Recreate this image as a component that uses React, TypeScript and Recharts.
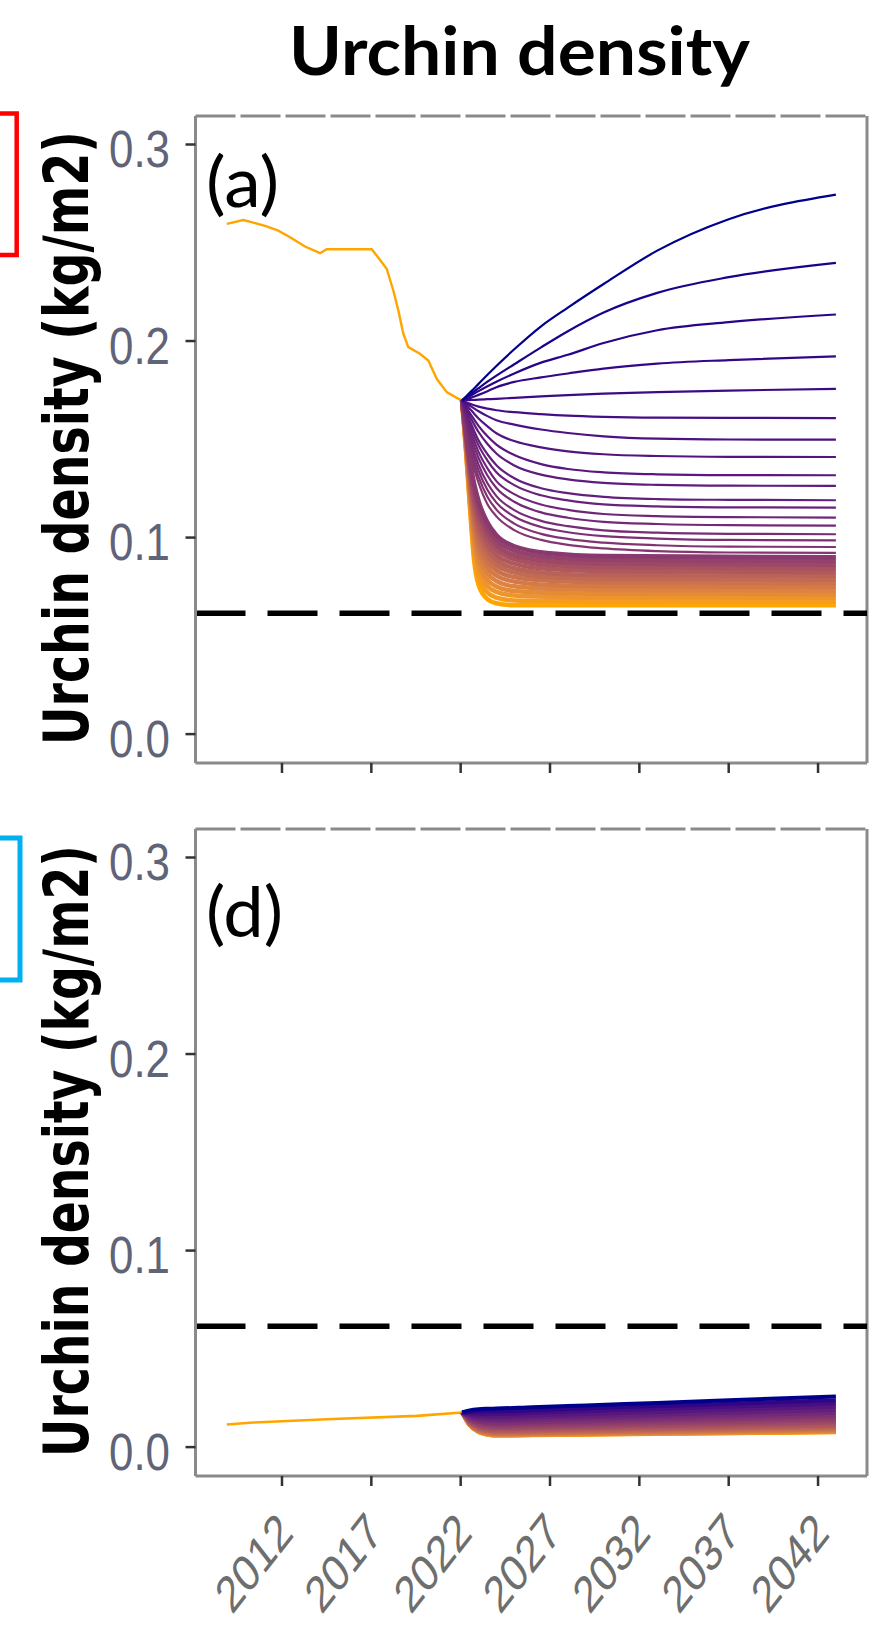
import React from 'react';
import { LineChart, Line, XAxis, YAxis, ReferenceLine } from 'recharts';

const X_DOMAIN: [number, number] = [2007.16, 2044.74];
const Y_DOMAIN: [number, number] = [-0.0147, 0.3145];
const X_TICKS = [2012, 2017, 2022, 2027, 2032, 2037, 2042];
const Y_TICKS = [0, 0.1, 0.2, 0.3];
const THRESHOLD = 0.0615;

// panel (a): observed series
const aObsYears = [2008.91, 2009.83, 2010.3, 2011.14, 2011.79, 2012.45, 2013.29, 2014.13, 2014.5, 2017.02, 2017.3, 2017.86, 2018.23, 2018.51, 2018.79, 2019.07, 2019.72, 2020.19, 2020.66, 2021.22, 2021.78, 2022.08];
const aObsVals = [0.2596, 0.2616, 0.2605, 0.2583, 0.2562, 0.2528, 0.2481, 0.2447, 0.2467, 0.2467, 0.2435, 0.2368, 0.2257, 0.2156, 0.2037, 0.1969, 0.1935, 0.1901, 0.1808, 0.174, 0.1711, 0.1698];

// panel (a): separated projection lines (top = dark blue)
const aFanYears = [2022.08, 2022.3, 2022.6, 2023, 2023.5, 2024, 2025, 2026.5, 2028, 2030, 2033, 2037, 2043];
const aFan = [
  [0.1698, 0.1718, 0.1745, 0.1782, 0.1828, 0.1873, 0.1958, 0.2075, 0.217, 0.229, 0.246, 0.262, 0.2745],
  [0.1698, 0.1713, 0.1733, 0.176, 0.1793, 0.1824, 0.1882, 0.1968, 0.205, 0.2145, 0.2245, 0.2325, 0.2398],
  [0.1698, 0.1709, 0.1724, 0.1745, 0.177, 0.1793, 0.1835, 0.189, 0.193, 0.199, 0.2055, 0.2096, 0.2135],
  [0.1698, 0.1704, 0.1712, 0.1726, 0.1745, 0.1765, 0.1792, 0.1815, 0.1835, 0.186, 0.1885, 0.1903, 0.1922],
  [0.1698, 0.1699, 0.17, 0.1702, 0.1704, 0.1706, 0.1711, 0.1718, 0.1725, 0.1732, 0.174, 0.1748, 0.1757],
  [0.1698, 0.1688, 0.1678, 0.1666, 0.1656, 0.1648, 0.1638, 0.1628, 0.162, 0.1614, 0.161, 0.1609, 0.1608],
  [0.1698, 0.1683, 0.1666, 0.1643, 0.1618, 0.1597, 0.1575, 0.155, 0.1532, 0.1515, 0.1503, 0.1499, 0.1498],
  [0.1698, 0.1675, 0.1646, 0.1606, 0.1566, 0.1531, 0.1491, 0.1459, 0.1439, 0.1424, 0.1415, 0.1411, 0.141],
  [0.1698, 0.1664, 0.1622, 0.1568, 0.1515, 0.1473, 0.142, 0.1374, 0.1349, 0.1332, 0.1322, 0.1318, 0.1317],
  [0.1698, 0.1655, 0.1602, 0.1537, 0.1476, 0.1428, 0.1367, 0.132, 0.1296, 0.1278, 0.1268, 0.1264, 0.1263],
  [0.1698, 0.1642, 0.1576, 0.1495, 0.1424, 0.1368, 0.1302, 0.1251, 0.1226, 0.1207, 0.1196, 0.1192, 0.119],
  [0.1698, 0.1632, 0.1556, 0.1469, 0.1392, 0.1332, 0.1267, 0.1215, 0.1189, 0.1169, 0.1159, 0.1154, 0.1152],
  [0.1698, 0.1621, 0.1531, 0.1436, 0.1352, 0.1287, 0.1221, 0.1168, 0.1141, 0.112, 0.1109, 0.1104, 0.1102],
  [0.1698, 0.1609, 0.1507, 0.1405, 0.1316, 0.1252, 0.1182, 0.1128, 0.1101, 0.108, 0.1069, 0.1063, 0.1061],
  [0.1698, 0.1596, 0.148, 0.1371, 0.1276, 0.1211, 0.114, 0.1085, 0.1058, 0.1037, 0.1025, 0.1019, 0.1017],
  [0.1698, 0.1584, 0.1456, 0.1342, 0.1242, 0.1178, 0.1107, 0.1054, 0.1027, 0.1007, 0.0995, 0.0988, 0.0986],
  [0.1698, 0.1571, 0.1429, 0.131, 0.1206, 0.1142, 0.1071, 0.1019, 0.0993, 0.0974, 0.0961, 0.0954, 0.0952],
  [0.1698, 0.1558, 0.1403, 0.1279, 0.117, 0.1108, 0.1038, 0.0988, 0.0963, 0.0945, 0.0931, 0.0924, 0.0922],
];

// panel (a): dense low band (purple -> orange)
const aBandYears = [2022.08, 2022.3, 2022.5, 2022.75, 2023, 2023.5, 2024, 2025, 2027, 2030, 2043];
const aBand = [
  [0.1698, 0.1538, 0.1403, 0.1275, 0.1187, 0.1076, 0.1012, 0.0956, 0.092, 0.0906, 0.09],
  [0.1698, 0.1531, 0.1388, 0.1249, 0.1159, 0.1048, 0.0987, 0.0934, 0.09, 0.0887, 0.0881],
  [0.1698, 0.1524, 0.1372, 0.1223, 0.113, 0.1022, 0.0962, 0.0911, 0.088, 0.0868, 0.0862],
  [0.1698, 0.1517, 0.1356, 0.1196, 0.11, 0.0994, 0.0938, 0.089, 0.086, 0.0849, 0.0844],
  [0.1698, 0.151, 0.134, 0.1168, 0.1069, 0.0966, 0.0912, 0.0867, 0.084, 0.083, 0.0825],
  [0.1698, 0.1503, 0.1323, 0.114, 0.1038, 0.0937, 0.0886, 0.0844, 0.0819, 0.081, 0.0806],
  [0.1698, 0.1495, 0.1306, 0.111, 0.1006, 0.0907, 0.086, 0.0822, 0.0799, 0.0791, 0.0787],
  [0.1698, 0.1487, 0.1289, 0.108, 0.0973, 0.0879, 0.0834, 0.0799, 0.078, 0.0773, 0.0769],
  [0.1698, 0.1479, 0.1271, 0.105, 0.094, 0.0848, 0.0807, 0.0776, 0.0759, 0.0753, 0.075],
  [0.1698, 0.1471, 0.1253, 0.1018, 0.0905, 0.0817, 0.0779, 0.0752, 0.0739, 0.0733, 0.0731],
  [0.1698, 0.1463, 0.1235, 0.0986, 0.087, 0.0785, 0.0751, 0.0728, 0.0718, 0.0714, 0.0712],
  [0.1698, 0.1455, 0.1216, 0.0953, 0.0835, 0.0753, 0.0724, 0.0705, 0.0698, 0.0695, 0.0694],
  [0.1698, 0.1446, 0.1197, 0.0919, 0.0798, 0.0721, 0.0695, 0.068, 0.0677, 0.0676, 0.0675],
  [0.1698, 0.1438, 0.1177, 0.0885, 0.076, 0.0687, 0.0666, 0.0656, 0.0656, 0.0656, 0.0656],
];

// panel (d): observed series
const dObsYears = [2008.91, 2010.4, 2014.5, 2019.55, 2022.08];
const dObsVals = [0.0115, 0.0125, 0.0142, 0.0159, 0.0176];

// panel (d): projection lines (top = dark blue)
const dProjYears = [2022.08, 2022.5, 2023, 2023.5, 2024, 2026, 2029, 2033, 2037, 2043];
const dProj = [
  [0.0176, 0.0187, 0.0193, 0.0195, 0.0196, 0.0203, 0.0212, 0.0225, 0.0238, 0.0258],
  [0.0176, 0.0179, 0.0181, 0.0182, 0.0182, 0.0188, 0.0197, 0.0209, 0.0221, 0.0239],
  [0.0176, 0.0172, 0.017, 0.0169, 0.0169, 0.0175, 0.0183, 0.0194, 0.0205, 0.0222],
  [0.0176, 0.0165, 0.0159, 0.0157, 0.0156, 0.0161, 0.0169, 0.0179, 0.019, 0.0205],
  [0.0176, 0.0158, 0.0149, 0.0145, 0.0144, 0.0149, 0.0156, 0.0165, 0.0175, 0.0189],
  [0.0176, 0.0152, 0.0139, 0.0135, 0.0133, 0.0137, 0.0144, 0.0153, 0.0162, 0.0175],
  [0.0176, 0.0146, 0.013, 0.0124, 0.0122, 0.0126, 0.0132, 0.014, 0.0149, 0.0161],
  [0.0176, 0.0141, 0.0122, 0.0116, 0.0113, 0.0117, 0.0122, 0.013, 0.0138, 0.0149],
  [0.0176, 0.0136, 0.0115, 0.0107, 0.0104, 0.0107, 0.0113, 0.012, 0.0127, 0.0137],
  [0.0176, 0.0132, 0.0108, 0.0099, 0.0096, 0.0099, 0.0104, 0.011, 0.0117, 0.0126],
  [0.0176, 0.0128, 0.0102, 0.0092, 0.0089, 0.0092, 0.0096, 0.0102, 0.0108, 0.0117],
  [0.0176, 0.0124, 0.0096, 0.0086, 0.0082, 0.0085, 0.0089, 0.0094, 0.01, 0.0108],
  [0.0176, 0.0122, 0.0092, 0.0081, 0.0077, 0.008, 0.0083, 0.0088, 0.0093, 0.0101],
  [0.0176, 0.0118, 0.0087, 0.0075, 0.0071, 0.0073, 0.0077, 0.0082, 0.0087, 0.0094],
  [0.0176, 0.0117, 0.0084, 0.0072, 0.0068, 0.007, 0.0074, 0.0078, 0.0082, 0.0089],
  [0.0176, 0.0114, 0.0081, 0.0068, 0.0064, 0.0066, 0.0069, 0.0073, 0.0078, 0.0084],
  [0.0176, 0.0113, 0.0079, 0.0067, 0.0062, 0.0064, 0.0067, 0.0071, 0.0075, 0.0081],
  [0.0176, 0.0112, 0.0077, 0.0064, 0.0059, 0.0061, 0.0064, 0.0068, 0.0072, 0.0078],
  [0.0176, 0.0112, 0.0077, 0.0064, 0.0059, 0.0061, 0.0064, 0.0068, 0.0071, 0.0077],
  [0.0176, 0.0111, 0.0076, 0.0063, 0.0058, 0.006, 0.0063, 0.0067, 0.007, 0.0076],
];

const ORANGE = '#FFA500';
const DARKBLUE = '#00008B';
const AXIS_GREY = '#8a8a8a';

// ggplot-style gradient (Lab interpolation) darkblue -> orange
const lin = (c: number) => (c <= 0.04045 ? c / 12.92 : Math.pow((c + 0.055) / 1.055, 2.4));
const unlin = (c: number) => (c <= 0.0031308 ? 12.92 * c : 1.055 * Math.pow(c, 1 / 2.4) - 0.055);
const fLab = (t: number) => (t > 0.008856 ? Math.cbrt(t) : 7.787 * t + 16 / 116);
const fInv = (t: number) => (t * t * t > 0.008856 ? t * t * t : (t - 16 / 116) / 7.787);

function toLab(hex: string) {
  const r = lin(parseInt(hex.slice(1, 3), 16) / 255);
  const g = lin(parseInt(hex.slice(3, 5), 16) / 255);
  const b = lin(parseInt(hex.slice(5, 7), 16) / 255);
  const X = (0.4124 * r + 0.3576 * g + 0.1805 * b) / 0.95047;
  const Y = 0.2126 * r + 0.7152 * g + 0.0722 * b;
  const Z = (0.0193 * r + 0.1192 * g + 0.9505 * b) / 1.08883;
  return [116 * fLab(Y) - 16, 500 * (fLab(X) - fLab(Y)), 200 * (fLab(Y) - fLab(Z))];
}

function fromLab(L: number, a: number, bb: number) {
  const fy = (L + 16) / 116;
  const X = fInv(fy + a / 500) * 0.95047;
  const Y = fInv(fy);
  const Z = fInv(fy - bb / 200) * 1.08883;
  const rgb = [
    3.2406 * X - 1.5372 * Y - 0.4986 * Z,
    -0.9689 * X + 1.8758 * Y + 0.0415 * Z,
    0.0557 * X - 0.204 * Y + 1.057 * Z,
  ];
  return (
    '#' +
    rgb
      .map((c) => Math.round(Math.min(1, Math.max(0, unlin(c))) * 255).toString(16).padStart(2, '0'))
      .join('')
  );
}

const LAB_LO = toLab(DARKBLUE);
const LAB_HI = toLab(ORANGE);
const gradColor = (t: number) =>
  fromLab(
    LAB_LO[0] + (LAB_HI[0] - LAB_LO[0]) * t,
    LAB_LO[1] + (LAB_HI[1] - LAB_LO[1]) * t,
    LAB_LO[2] + (LAB_HI[2] - LAB_LO[2]) * t,
  );

const toPoints = (xs: number[], ys: number[]) => xs.map((year, i) => ({ year, v: ys[i] }));

type Series = { key: string; data: { year: number; v: number }[]; color: string; width: number; curve: 'linear' | 'monotone' };

function buildA(): Series[] {
  const out: Series[] = [{ key: 'obs', data: toPoints(aObsYears, aObsVals), color: ORANGE, width: 2.4, curve: 'linear' }];
  for (let j = aBand.length - 1; j >= 0; j--) {
    const t = (aFan.length + (j * 31) / (aBand.length - 1)) / 49;
    out.push({ key: `band${j}`, data: toPoints(aBandYears, aBand[j]), color: gradColor(t), width: 4.5, curve: 'monotone' });
  }
  for (let i = aFan.length - 1; i >= 0; i--) {
    out.push({ key: `fan${i}`, data: toPoints(aFanYears, aFan[i]), color: gradColor(i / 49), width: 2.2, curve: 'monotone' });
  }
  return out;
}

function buildD(): Series[] {
  const out: Series[] = [{ key: 'obs', data: toPoints(dObsYears, dObsVals), color: ORANGE, width: 2.6, curve: 'linear' }];
  for (let i = dProj.length - 1; i >= 0; i--) {
    out.push({ key: `proj${i}`, data: toPoints(dProjYears, dProj[i]), color: gradColor(i / (dProj.length - 1)), width: 4, curve: 'monotone' });
  }
  return out;
}

const NoTick = () => <g />;

function YTick({ y, payload }: any) {
  return (
    <text
      transform={`translate(170, ${y + 4}) scale(1, 1.28)`}
      textAnchor="end"
      dy="0.36em"
      fontSize={41}
      fontFamily="'Liberation Sans', Arial, sans-serif"
      fill="#5f6478"
      textLength={61}
      lengthAdjust="spacingAndGlyphs"
    >
      {Number(payload.value).toFixed(1)}
    </text>
  );
}

function XTick({ x, payload }: any) {
  return (
    <text
      transform={`translate(${x + 13}, 822) scale(1, 1.28) rotate(-45)`}
      textAnchor="end"
      fontSize={40}
      fontFamily="'Liberation Sans', Arial, sans-serif"
      fill="#6e6e6e"
    >
      {payload.value}
    </text>
  );
}

function Panel({ top, height, bottomMargin, axisHeight, series, xTick }: any) {
  return (
    <div style={{ position: 'absolute', left: 0, top, width: 870, height }}>
      <LineChart width={870} height={height} margin={{ top: 116, right: 3, bottom: bottomMargin, left: 0 }}>
        <XAxis
          dataKey="year"
          type="number"
          domain={X_DOMAIN}
          ticks={X_TICKS}
          allowDataOverflow
          height={axisHeight}
          axisLine={{ stroke: AXIS_GREY, strokeWidth: 3 }}
          tickLine={{ stroke: '#333', strokeWidth: 2.5 }}
          tickSize={10}
          tick={xTick}
        />
        <YAxis
          type="number"
          domain={Y_DOMAIN}
          ticks={Y_TICKS}
          allowDataOverflow
          width={195.5}
          axisLine={{ stroke: AXIS_GREY, strokeWidth: 3 }}
          tickLine={{ stroke: '#333', strokeWidth: 2.5 }}
          tickSize={10}
          tick={<YTick />}
        />
        <ReferenceLine y={Y_DOMAIN[1]} stroke={AXIS_GREY} strokeWidth={3} strokeDasharray="40 5" />
        <ReferenceLine x={X_DOMAIN[1]} stroke={AXIS_GREY} strokeWidth={3} />
        {series.map((s: Series) => (
          <Line
            key={s.key}
            data={s.data}
            dataKey="v"
            type={s.curve}
            stroke={s.color}
            strokeWidth={s.width}
            dot={false}
            activeDot={false}
            isAnimationActive={false}
          />
        ))}
        <ReferenceLine y={THRESHOLD} stroke="#000" strokeWidth={5.5} strokeDasharray="50 22" />
      </LineChart>
    </div>
  );
}

export default function App() {
  const seriesA = buildA();
  const seriesD = buildD();
  const yTitle = 'Urchin density (kg/m2)';
  return (
    <div style={{ position: 'absolute', left: 0, top: 0, width: 870, height: 1642, background: '#fff', overflow: 'hidden' }}>
      <Panel top={0} height={800} bottomMargin={7} axisHeight={30} series={seriesA} xTick={<NoTick />} />
      <Panel top={713} height={929} bottomMargin={16} axisHeight={150} series={seriesD} xTick={<XTick />} />
      <svg width={870} height={1642} style={{ position: 'absolute', left: 0, top: 0, pointerEvents: 'none' }}>
        <text x={289} y={75} fontFamily="Lato, 'Open Sans', sans-serif" fontWeight={700} fontSize={67} textLength={461} lengthAdjust="spacingAndGlyphs" fill="#000">
          Urchin density
        </text>
        <text x={206} y={206.7} fontFamily="Lato, 'Open Sans', sans-serif" fontSize={70} textLength={73} lengthAdjust="spacingAndGlyphs" fill="#000">
          (a)
        </text>
        <text x={206} y={936.7} fontFamily="Lato, 'Open Sans', sans-serif" fontSize={70} textLength={77} lengthAdjust="spacingAndGlyphs" fill="#000">
          (d)
        </text>
        <text transform="translate(88, 745) rotate(-90) scale(1, 1.43)" fontFamily="'DejaVu Sans', sans-serif" fontWeight={700} fontSize={44} textLength={614} lengthAdjust="spacingAndGlyphs" fill="#000">
          {yTitle}
        </text>
        <text transform="translate(88, 1457) rotate(-90) scale(1, 1.43)" fontFamily="'DejaVu Sans', sans-serif" fontWeight={700} fontSize={44} textLength={612} lengthAdjust="spacingAndGlyphs" fill="#000">
          {yTitle}
        </text>
        <path d="M0,113.5 H16.7 V255 H0" fill="none" stroke="#FF0000" strokeWidth={4.5} />
        <path d="M0,838 H20 V980 H0" fill="none" stroke="#00B0F0" strokeWidth={5} />
      </svg>
    </div>
  );
}
